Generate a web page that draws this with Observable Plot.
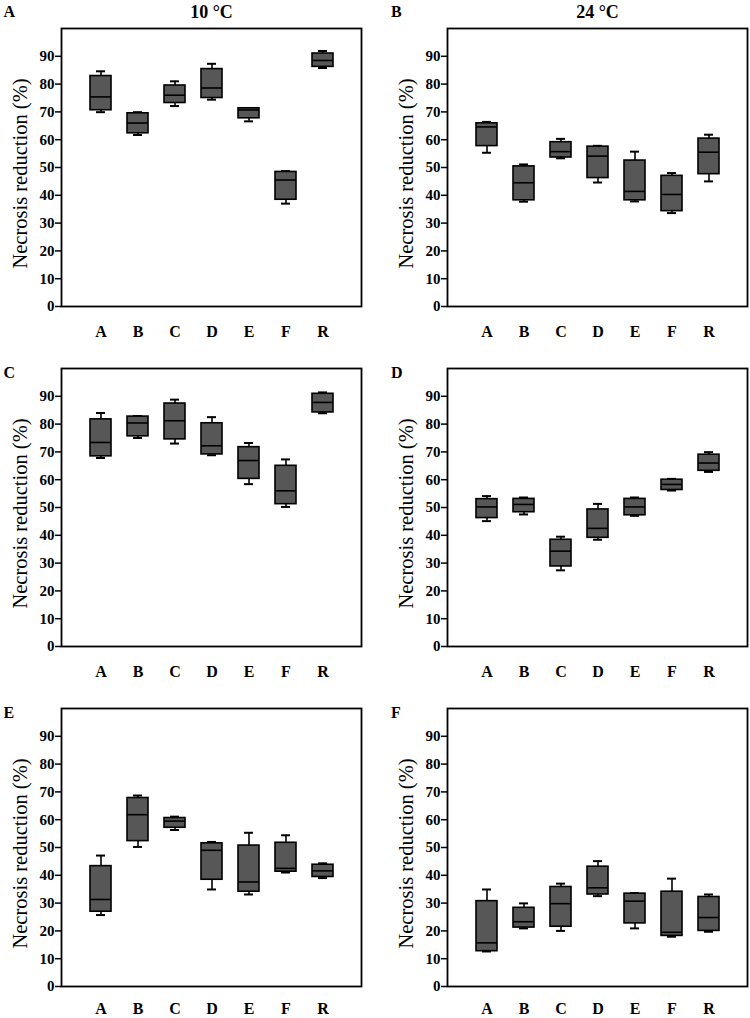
<!DOCTYPE html>
<html><head><meta charset="utf-8">
<script src="https://cdn.jsdelivr.net/npm/d3@7"></script>
<script src="https://cdn.jsdelivr.net/npm/@observablehq/plot@0.6"></script>
<style>
body{margin:0;background:#fff}
#grid{display:grid;grid-template-columns:375px 375px;grid-template-rows:340px 340px 338px;width:750px;height:1018px}
#grid svg{display:block}
</style></head><body><div id="grid"></div>
<script>
const groups = ["A","B","C","D","E","F","R"];
const yTicks = [0,10,20,30,40,50,60,70,80,90];
const yLabel = "Necrosis reduction (%)";
const panelLetters = ["A","B","C","D","E","F"];
const panelTitles = ["10 °C","24 °C","","","",""];

// five-number summaries per group: [min, q1, median, q3, max]
const panelA = [[69.9,70.6,75.4,82.9,84.6],[61.7,62.3,66.0,69.5,69.9],[72.1,73.2,76.0,79.5,81.0],[74.4,75.0,78.6,85.4,87.3],[66.6,67.7,70.7,71.3,71.4],[37.0,38.4,45.5,48.4,48.7],[85.8,86.2,88.5,91.0,91.9]];
const panelB = [[55.3,57.7,64.6,65.9,66.4],[37.7,38.2,44.5,50.4,51.1],[53.3,53.6,55.7,59.1,60.3],[44.6,46.2,54.1,57.5,57.8],[37.8,38.2,41.4,52.5,55.7],[33.6,34.3,40.3,47.0,48.0],[45.0,47.6,55.5,60.4,61.8]];
const panelC = [[67.8,68.4,73.4,81.7,84.0],[75.0,75.6,80.4,82.7,82.9],[73.0,74.5,81.2,87.4,88.8],[68.8,69.1,72.2,80.3,82.5],[58.4,60.3,66.9,71.7,73.2],[50.2,51.2,56.0,65.0,67.3],[83.9,84.2,87.8,90.9,91.4]];
const panelD = [[45.1,46.2,50.2,53.0,54.1],[47.5,48.3,51.1,53.1,53.6],[27.4,28.8,34.3,38.4,39.5],[38.4,39.1,42.5,49.3,51.3],[47.0,47.2,50.2,53.1,53.6],[56.1,56.3,58.3,60.0,60.3],[62.8,63.2,66.0,69.0,69.9]];
const panelE = [[25.7,26.9,31.3,43.3,47.1],[50.2,52.3,61.8,67.8,68.7],[56.3,57.1,59.5,60.6,61.1],[34.9,38.4,49.0,51.5,52.0],[33.1,34.1,37.6,50.7,55.3],[41.0,41.3,42.5,51.7,54.4],[39.0,39.4,41.6,43.8,44.3]];
const panelF = [[12.6,12.7,15.7,30.7,34.9],[20.9,21.2,23.3,28.3,29.9],[20.0,21.5,29.8,35.8,37.0],[32.5,33.1,35.5,43.1,45.1],[20.9,22.7,30.7,33.4,33.6],[17.9,18.2,19.5,34.1,38.8],[19.7,20.0,24.8,32.2,33.1]];
const panels = [panelA, panelB, panelC, panelD, panelE, panelF];

const font = "'Liberation Serif','Times New Roman',serif";
const grid = document.getElementById("grid");

panels.forEach((stats, p) => {
  const col = p % 2, row = Math.floor(p / 2);
  const rows = groups.map((g, i) => ({group: g, min: stats[i][0], q1: stats[i][1], med: stats[i][2], q3: stats[i][3], max: stats[i][4]}));
  const height = row === 2 ? 338 : 340;
  const marginLeft = col === 0 ? 61 : 72;
  const marginRight = col === 0 ? 14 : 3;
  const marginTop = 28;
  const marginBottom = height - 28 - 278;
  const letterDx = col === 0 ? -58 : -56.5;
  const letterDy = row === 0 ? -12 : 9.5;
  const xPad = row === 2 ? 16 : 19;
  const chart = Plot.plot({
    width: 375, height, marginLeft, marginRight, marginTop, marginBottom,
    style: {fontFamily: font, background: "#fff", color: "#000"},
    x: {type: "band", domain: groups, paddingInner: 0.44, paddingOuter: 0.72},
    y: {domain: [0, 100]},
    marks: [
      Plot.ruleX(rows, {x: "group", y1: "min", y2: "max", stroke: "#000", strokeWidth: 1.6}),
      Plot.tickY(rows, {x: "group", y: "min", insetLeft: 6, insetRight: 6, stroke: "#000", strokeWidth: 2}),
      Plot.tickY(rows, {x: "group", y: "max", insetLeft: 6, insetRight: 6, stroke: "#000", strokeWidth: 2}),
      Plot.barY(rows, {x: "group", y1: "q1", y2: "q3", fill: "#575757", stroke: "#000", strokeWidth: 1.6}),
      Plot.tickY(rows, {x: "group", y: "med", stroke: "#000", strokeWidth: 1.6}),
      Plot.frame({stroke: "#000", strokeWidth: 1.8}),
      Plot.axisY(yTicks, {tickSize: 6, tickPadding: 1, label: null, fontSize: 15, fontWeight: "bold", fontFamily: font, stroke: "#000", strokeWidth: 1.5}),
      Plot.axisX({tickSize: 0, tickPadding: xPad, label: null, fontSize: 16, fontWeight: "bold", fontFamily: font}),
      Plot.text([yLabel], {frameAnchor: "left", rotate: -90, dx: -41, dy: 6, textAnchor: "middle", lineAnchor: "middle", fontSize: 20.5, fontFamily: font, fill: "#000"}),
      Plot.text([panelLetters[p]], {frameAnchor: "top-left", dx: letterDx, dy: letterDy, textAnchor: "start", lineAnchor: "bottom", fontSize: 16, fontWeight: "bold", fontFamily: font, fill: "#000"}),
      panelTitles[p] ? Plot.text([panelTitles[p]], {frameAnchor: "top", dy: -11, textAnchor: "middle", lineAnchor: "bottom", fontSize: 18, fontWeight: "bold", fontFamily: font, fill: "#000"}) : null
    ]
  });
  grid.appendChild(chart);
});
</script>
</body></html>
